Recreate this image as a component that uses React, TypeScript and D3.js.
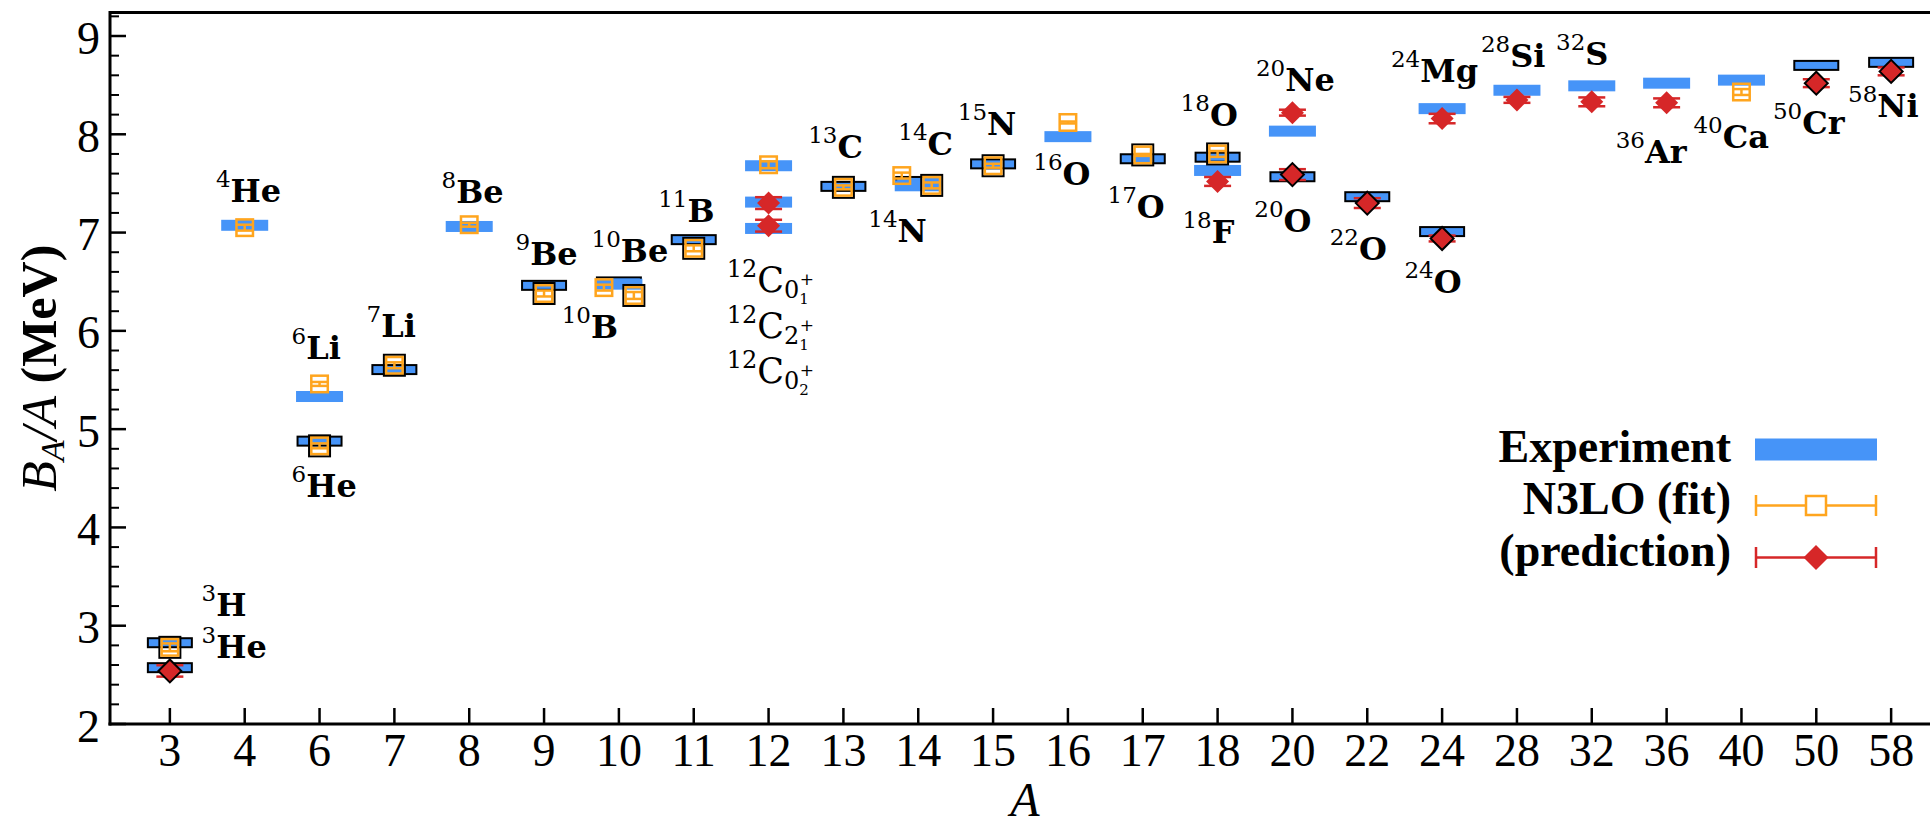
import React from "react";
import * as d3 from "d3";

// ---------------- data ----------------
const categories = ["3","4","6","7","8","9","10","11","12","13","14","15","16","17","18","20","22","24","28","32","36","40","50","58"];
const yTicks = [2, 3, 4, 5, 6, 7, 8, 9];

// Experiment
const expNuclei = ["3H","3He","4He","6He","6Li","7Li","8Be","9Be","10Be","10B","11B","12C01","12C21","12C02","13C","14C","14N","15N","16O","17O","18O","18F","20O","20Ne","22O","24O","24Mg","28Si","32S","36Ar","40Ca","50Cr","58Ni"];
const expMass = [3,3,4,6,6,7,8,9,10,10,11,12,12,12,13,14,14,15,16,17,18,18,20,20,22,24,24,28,32,36,40,50,58];
const expValues = [2.827,2.573,7.074,4.878,5.332,5.606,7.062,6.463,6.498,6.475,6.928,7.680,7.310,7.042,7.470,7.520,7.476,7.699,7.976,7.751,7.767,7.632,7.568,8.032,7.365,7.010,8.261,8.448,8.493,8.520,8.551,8.701,8.732];

// N3LO (fit)
const fitNuclei = ["3H","4He","6He","6Li","7Li","8Be","9Be","10B","10Be","11B","12C01","13C","14N","14C","15N","16O","17O","18O","40Ca"];
const fitMass = [3,4,6,6,7,8,9,10,10,11,12,13,14,14,15,16,17,18,40];
const fitValues = [2.78,7.05,4.83,5.46,5.65,7.08,6.38,6.44,6.36,6.84,7.69,7.46,7.58,7.48,7.68,8.12,7.79,7.80,8.43];
const fitErrors = [0.04,0.03,0.025,0.02,0.03,0.02,0.03,0.03,0.035,0.03,0.035,0.02,0.03,0.03,0.02,0.01,0.01,0.03,0.03];

// N3LO (prediction)
const predNuclei = ["3He","12C21","12C02","18F","20Ne","20O","22O","24Mg","24O","28Si","32S","36Ar","50Cr","58Ni"];
const predMass = [3,12,12,18,20,20,22,24,24,28,32,36,50,58];
const predValues = [2.54,7.30,7.07,7.52,8.22,7.59,7.30,8.16,6.94,8.35,8.33,8.32,8.52,8.64];
const predErrors = [0.058,0.06,0.06,0.045,0.03,0.055,0.05,0.048,0.03,0.03,0.045,0.045,0.04,0.04];

// nuclei with N != Z drawn with a black edge
const outlined = ["3H","3He","6He","7Li","9Be","10Be","11B","13C","14C","15N","17O","18O","20O","22O","24O","50Cr","58Ni"];
// small horizontal dodge (in category units) for overlapping isobars
const dodgeNuclei = ["10B","10Be","14N","14C"];
const dodgeShift = [-0.2, 0.2, -0.22, 0.18];

// nucleus annotations (text anchor in data coordinates: category index, B/A)
const labelMass = ["3","3","4","6","6","7","8","9","10","10","11","13","14","14","15","16","17","18","18","20","20","22","24","24","28","32","36","40","50","58"];
const labelSym = ["H","He","He","Li","He","Li","Be","Be","Be","B","B","C","N","C","N","O","O","O","F","Ne","O","O","Mg","O","Si","S","Ar","Ca","Cr","Ni"];
const labelX = [0.424,0.424,0.615,1.626,1.626,2.629,3.631,4.62,5.635,5.235,6.525,8.53,9.332,9.733,10.529,11.537,12.53,13.506,13.53,14.513,14.49,15.498,16.317,16.497,17.519,18.522,19.32,20.358,21.42,22.424];
const labelY = [3.099,2.668,7.314,5.713,4.306,5.934,7.298,6.67,6.703,5.924,7.11,7.755,6.907,7.789,7.992,7.484,7.145,8.084,6.891,8.443,7.006,6.721,8.527,6.382,8.687,8.705,7.703,7.857,8.003,8.173];

const carbonSub = ["0","2","0"];
const carbonSubSub = ["1","1","2"];
const carbonX = [7.44, 7.44, 7.44];
const carbonY = [6.398, 5.924, 5.466];

const legendLabels = ["Experiment", "N3LO (fit)", "(prediction)"];

// ---------------- styling ----------------
const BLUE = "#4694f8";
const ORANGE = "#ffa51e";
const RED = "#d62728";
const W = 1930;
const H = 829;
const SERIF = "Liberation Serif";
const DV = "DejaVu Serif";

export default function App() {
  const x = d3.scaleLinear().domain([-0.8, 23.8]).range([110, 1951]);
  const y = d3.scaleLinear().domain([2, 9]).range([724, 36]);
  const yTop = y(9.24);
  const yBottom = y(2);
  const idx = (m: number) => categories.indexOf(String(m));
  const dodge = (n: string) => {
    const i = dodgeNuclei.indexOf(n);
    return i >= 0 ? dodgeShift[i] : 0;
  };
  const isOut = (n: string) => outlined.includes(n);
  const minorTicks = d3.range(2, 9.25, 0.2).filter((v) => Math.abs(v - Math.round(v)) > 1e-6);

  const diamond = (cx: number, cy: number, r: number) =>
    `M${cx},${cy - r}L${cx + r},${cy}L${cx},${cy + r}L${cx - r},${cy}Z`;

  const serif = { fontFamily: SERIF } as React.CSSProperties;
  const dv = { fontFamily: DV } as React.CSSProperties;

  return (
    <svg width={W} height={H} style={{ position: "absolute", left: 0, top: 0, background: "#fff" }}>
      <rect x={0} y={0} width={W} height={H} fill="#fff" />

      {/* experiment bars */}
      {expNuclei.map((n, i) => {
        const cx = x(idx(expMass[i]));
        const cy = y(expValues[i]);
        return isOut(n) ? (
          <rect key={"e" + n} x={cx - 22} y={cy - 4.5} width={44} height={9} fill={BLUE} stroke="#000" strokeWidth={2} />
        ) : (
          <rect key={"e" + n} x={cx - 23.5} y={cy - 5.5} width={47} height={11} fill={BLUE} />
        );
      })}

      {/* fit: orange open squares with error bars */}
      {fitNuclei.map((n, i) => {
        const cx = x(idx(fitMass[i]) + dodge(n));
        const cy = y(fitValues[i]);
        const y1 = y(fitValues[i] + fitErrors[i]);
        const y2 = y(fitValues[i] - fitErrors[i]);
        return (
          <g key={"f" + n}>
            {isOut(n) && <rect x={cx - 10.5} y={cy - 10.5} width={21} height={21} fill="none" stroke="#000" strokeWidth={2} />}
            <line x1={cx} x2={cx} y1={y1} y2={y2} stroke={ORANGE} strokeWidth={2.5} />
            <line x1={cx - 8.5} x2={cx + 8.5} y1={y1} y2={y1} stroke={ORANGE} strokeWidth={2.5} />
            <line x1={cx - 8.5} x2={cx + 8.5} y1={y2} y2={y2} stroke={ORANGE} strokeWidth={2.5} />
            <rect x={cx - 8.25} y={cy - 8.25} width={16.5} height={16.5} fill="none" stroke={ORANGE} strokeWidth={2.5} />
          </g>
        );
      })}

      {/* prediction: red diamonds with error bars */}
      {predNuclei.map((n, i) => {
        const cx = x(idx(predMass[i]));
        const cy = y(predValues[i]);
        const y1 = y(predValues[i] + predErrors[i]);
        const y2 = y(predValues[i] - predErrors[i]);
        return (
          <g key={"p" + n}>
            <line x1={cx} x2={cx} y1={y1} y2={y2} stroke={RED} strokeWidth={2.5} />
            <line x1={cx - 13.5} x2={cx + 13.5} y1={y1} y2={y1} stroke={RED} strokeWidth={2.5} />
            <line x1={cx - 13.5} x2={cx + 13.5} y1={y2} y2={y2} stroke={RED} strokeWidth={2.5} />
            <path d={diamond(cx, cy, 11.5)} fill={RED} stroke={isOut(n) ? "#000" : "none"} strokeWidth={2} />
          </g>
        );
      })}

      {/* nucleus labels */}
      {labelSym.map((s, i) => (
        <text key={"l" + i} x={x(labelX[i])} y={y(labelY[i])} fill="#000" style={dv}>
          <tspan style={dv} fontSize={23} dy={-15}>{labelMass[i]}</tspan>
          <tspan style={dv} fontWeight="bold" fontSize={32} dy={15}>{s}</tspan>
        </text>
      ))}
      {carbonSub.map((s, i) => (
        <text key={"c" + i} x={x(carbonX[i])} y={y(carbonY[i])} fill="#000" style={dv}>
          <tspan fontSize={24} dy={-15}>12</tspan>
          <tspan fontSize={35} dy={15}>C</tspan>
          <tspan fontSize={24} dy={6}>{s}</tspan>
          <tspan fontSize={15} dy={6}>{carbonSubSub[i]}</tspan>
          <tspan fontSize={17} dx={-9} dy={-19}>+</tspan>
        </text>
      ))}

      {/* axes */}
      <g stroke="#000">
        <line x1={110} x2={W} y1={yTop} y2={yTop} strokeWidth={3} />
        <line x1={110} x2={110} y1={yTop - 1.5} y2={yBottom + 1.5} strokeWidth={3} />
        <line x1={108.5} x2={W} y1={yBottom} y2={yBottom} strokeWidth={3} />
        {yTicks.map((t) => (
          <line key={"yt" + t} x1={110} x2={126} y1={y(t)} y2={y(t)} strokeWidth={2.5} />
        ))}
        {minorTicks.map((t) => (
          <line key={"ym" + t} x1={110} x2={119} y1={y(t)} y2={y(t)} strokeWidth={2} />
        ))}
        {categories.map((c, i) => (
          <line key={"xt" + c} x1={x(i)} x2={x(i)} y1={yBottom} y2={yBottom - 16} strokeWidth={2.5} />
        ))}
      </g>
      <g style={serif} fontSize={46} fill="#000">
        {yTicks.map((t) => (
          <text key={"yl" + t} style={serif} x={100} y={y(t) + 2} textAnchor="end" dominantBaseline="central">{t}</text>
        ))}
        {categories.map((c, i) => (
          <text key={"xl" + c} style={serif} x={x(i)} y={766} textAnchor="middle">{c}</text>
        ))}
      </g>

      {/* axis titles */}
      <text x={1025} y={816} textAnchor="middle" style={serif} fontStyle="italic" fontSize={48}>A</text>
      <text transform={`translate(56, ${(yTop + yBottom) / 2}) rotate(-90)`} textAnchor="middle" style={serif} fontSize={50}>
        <tspan fontStyle="italic">B</tspan>
        <tspan fontStyle="italic" fontSize={34} dy={8}>A</tspan>
        <tspan fontStyle="italic" dy={-8}>/A</tspan>
        <tspan fontWeight="bold"> (MeV)</tspan>
      </text>

      {/* legend */}
      <g style={serif} fontWeight="bold" fontSize={46} fill="#000">
        {legendLabels.map((l, i) => (
          <text key={"lg" + i} style={serif} x={1731} y={[461.5, 514, 565.5][i]} textAnchor="end">{l}</text>
        ))}
      </g>
      <rect x={1755} y={438.5} width={122} height={22} fill={BLUE} />
      <g stroke={ORANGE} strokeWidth={2.5}>
        <line x1={1756} x2={1876} y1={505.5} y2={505.5} />
        <line x1={1756} x2={1756} y1={495} y2={516} />
        <line x1={1876} x2={1876} y1={495} y2={516} />
        <rect x={1806} y={496} width={20} height={19} fill="#fff" />
      </g>
      <g stroke={RED} strokeWidth={2.5}>
        <line x1={1756} x2={1876} y1={557.5} y2={557.5} />
        <line x1={1756} x2={1756} y1={547} y2={568} />
        <line x1={1876} x2={1876} y1={547} y2={568} />
      </g>
      <path d={diamond(1816, 557.5, 12.5)} fill={RED} />
    </svg>
  );
}
